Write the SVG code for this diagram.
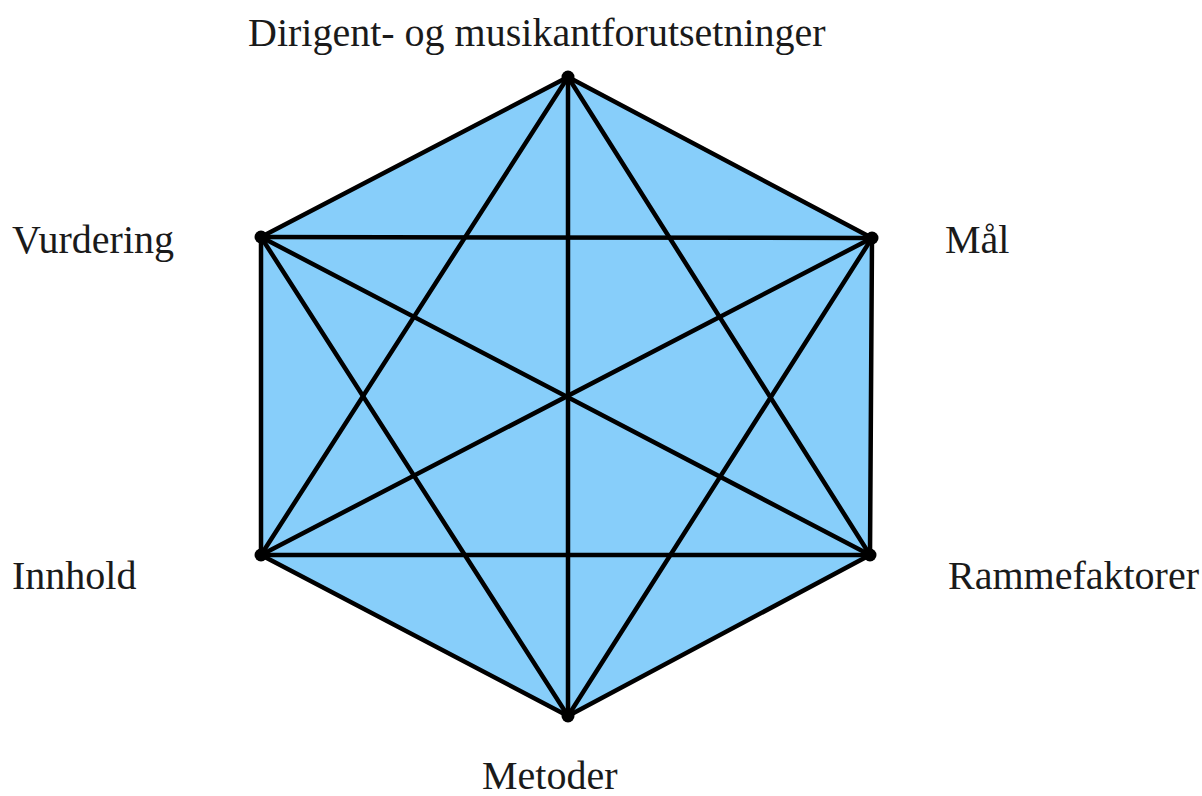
<svg xmlns="http://www.w3.org/2000/svg" width="1202" height="796" viewBox="0 0 1202 796">
<style>
.lbl{font-family:"Liberation Serif","Times New Roman",serif;font-size:40px;fill:#1a1a1a}
.e{stroke:#000;stroke-width:4.5;stroke-linecap:round}
.v{fill:#000}
</style>
<rect width="1202" height="796" fill="#fff"/>
<polygon points="568,77 872,238 870,555 568,716 261,555 261,237" fill="#87CEFA"/>
<g id="connectors" class="e">
<line x1="568" y1="77" x2="872" y2="238"/>
<line x1="568" y1="77" x2="870" y2="555"/>
<line x1="568" y1="77" x2="568" y2="716"/>
<line x1="568" y1="77" x2="261" y2="555"/>
<line x1="568" y1="77" x2="261" y2="237"/>
<line x1="872" y1="238" x2="870" y2="555"/>
<line x1="872" y1="238" x2="568" y2="716"/>
<line x1="872" y1="238" x2="261" y2="555"/>
<line x1="872" y1="238" x2="261" y2="237"/>
<line x1="870" y1="555" x2="568" y2="716"/>
<line x1="870" y1="555" x2="261" y2="555"/>
<line x1="870" y1="555" x2="261" y2="237"/>
<line x1="568" y1="716" x2="261" y2="555"/>
<line x1="568" y1="716" x2="261" y2="237"/>
<line x1="261" y1="555" x2="261" y2="237"/>
</g>
<g id="n-top"><circle class="v" cx="568" cy="77" r="6.5"/><text class="lbl" x="248" y="46">Dirigent- og musikantforutsetninger</text></g>
<g id="n-maal"><circle class="v" cx="872" cy="238" r="6.5"/><text class="lbl" x="945" y="253">Mål</text></g>
<g id="n-ramme"><circle class="v" cx="870" cy="555" r="6.5"/><text class="lbl" x="948" y="589">Rammefaktorer</text></g>
<g id="n-metoder"><circle class="v" cx="568" cy="716" r="6.5"/><text class="lbl" x="482" y="789">Metoder</text></g>
<g id="n-innhold"><circle class="v" cx="261" cy="555" r="6.5"/><text class="lbl" x="12" y="589">Innhold</text></g>
<g id="n-vurdering"><circle class="v" cx="261" cy="237" r="6.5"/><text class="lbl" x="12" y="253">Vurdering</text></g>
</svg>
